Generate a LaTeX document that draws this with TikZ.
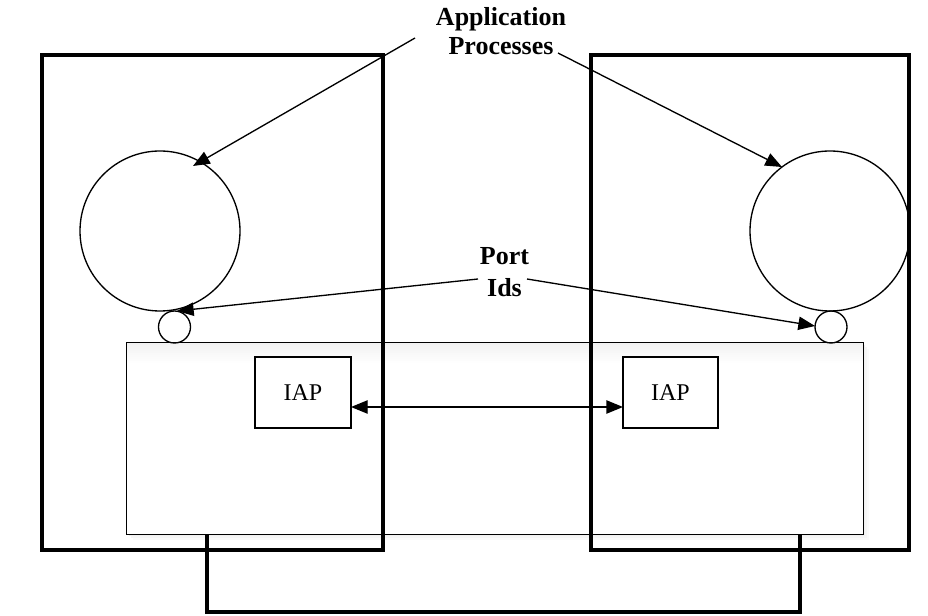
\documentclass[tikz,border=0pt]{standalone}
\usepackage{fontspec}
\setmainfont{Liberation Serif}
\usetikzlibrary{arrows.meta}
\begin{document}
\begin{tikzpicture}[x=0.75pt,y=-0.75pt,
  thickbox/.style={draw=black,line width=2.4pt},
  thinbox/.style={draw=black,line width=1pt},
  ring/.style={draw=black,line width=1pt,circle,inner sep=0pt},
  lbl/.style={font=\fontsize{19.5}{21}\selectfont\bfseries,inner sep=0pt,anchor=base},
  iaptext/.style={font=\fontsize{18}{20}\selectfont},
  arr/.style={line width=1pt,-{Triangle[length=12.5pt,width=10pt]}},
  darr/.style={line width=1pt,{Triangle[length=12.5pt,width=10pt]}-{Triangle[length=12.5pt,width=10pt]}}]
\useasboundingbox (0,0) rectangle (928,616);
% soft shadow of the middle layer
\foreach \k/\g in {6/2,4/4,2/6}
  \fill[black!\g] (127+\k,343+\k) rectangle (863+\k,534+\k);
% middle layer
\node[fill=white,minimum width=736*0.75pt,minimum height=191*0.75pt,inner sep=0pt] (mid) at (495,438.5) {};
\foreach \i in {0,...,9}
  \fill[black!\fpeval{5-0.5*\i}] (127,343+2*\i) rectangle (863,345+2*\i);
\draw[thinbox] (mid.north west) rectangle (mid.south east);
% outer systems
\node[thickbox,minimum width=341*0.75pt,minimum height=495*0.75pt,inner sep=0pt] (lsys) at (212.5,302.5) {};
\node[thickbox,minimum width=318*0.75pt,minimum height=495*0.75pt,inner sep=0pt] (rsys) at (750,302.5) {};
% bottom link
\coordinate (bl) at (207,534);
\coordinate (br) at (800,534);
\draw[line width=2.4pt] (bl) -- (207,612) -- (800,612) -- (br);
% application processes
\node[ring,minimum size=160*0.75pt] (lap) at (160,231) {};
\node[ring,minimum size=160*0.75pt] (rap) at (830,231) {};
% port ids
\node[ring,minimum size=32*0.75pt] (lport) at (174.5,327) {};
\node[ring,minimum size=32*0.75pt] (rport) at (831,327) {};
% IAP boxes
\node[thinbox,fill=white,minimum width=96*0.75pt,minimum height=71*0.75pt,inner sep=0pt,iaptext] (liap) at (303,392.5) {IAP};
\node[thinbox,fill=white,minimum width=95*0.75pt,minimum height=71*0.75pt,inner sep=0pt,iaptext] (riap) at (670.5,392.5) {IAP};
\coordinate (la) at (351,407);
\coordinate (ra) at (623,407);
\draw[darr] (la) -- (ra);
% labels
\node[lbl] (app1) at (501,26) {Application};
\node[lbl] (app2) at (501,55) {Processes};
\node[lbl] (port1) at (504.5,265) {Port};
\node[lbl] (port2) at (504.5,297) {Ids};
\coordinate (a1s) at (415,38);
\coordinate (a1e) at (193,166);
\coordinate (a2s) at (558,53);
\coordinate (a2e) at (782,167);
\draw[arr] (a1s) -- (a1e);
\draw[arr] (a2s) -- (a2e);
\coordinate (p1s) at (478,279);
\coordinate (p1e) at (177,311);
\coordinate (p2s) at (527,279);
\coordinate (p2e) at (815,326);
\draw[arr] (p1s) -- (p1e);
\draw[arr] (p2s) -- (p2e);
\end{tikzpicture}
\end{document}
